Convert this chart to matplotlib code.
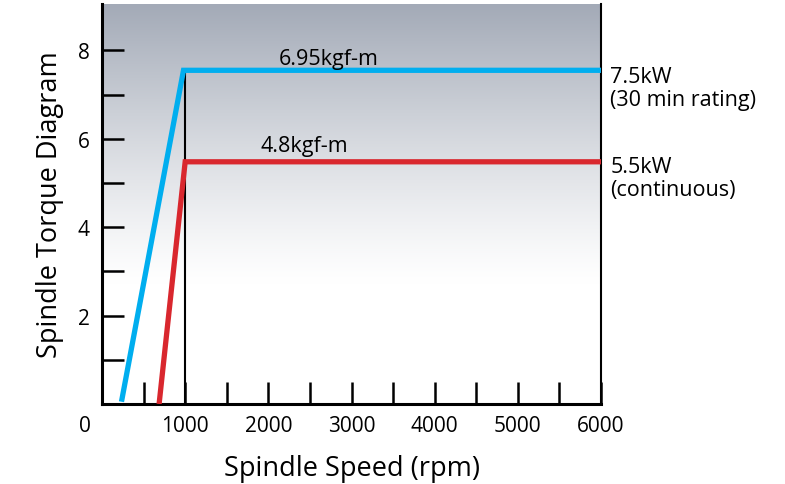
import matplotlib
matplotlib.use("Agg")
import matplotlib.pyplot as plt
import numpy as np

# Data
rating_speed = [240, 980, 6000]        # 30 min rating curve (rpm)
rating_torque = [0.11, 7.55, 7.55]     # kgf-m
cont_speed = [690, 1000, 6000]         # continuous curve (rpm)
cont_torque = [0.06, 5.48, 5.48]
base_speed = 1000
xtick_major = [1000, 2000, 3000, 4000, 5000, 6000]
xtick_labels = ["1000", "2000", "3000", "4000", "5000", "6000"]
xtick_minor = [500, 1500, 2500, 3500, 4500, 5500]
ytick_major = [2, 4, 6, 8]
ytick_all = [1, 2, 3, 4, 5, 6, 7, 8]

plt.rcParams['font.family'] = ['Open Sans', 'DejaVu Sans']

fig = plt.figure(figsize=(7.85, 4.85), dpi=100)
ax = fig.add_axes([102/785, 1-405/485, (601-102)/785, 400/485])
ax.set_xlim(0, 6000)
ax.set_ylim(0, 9.05)

# gradient background
top = np.array([163, 170, 183]) / 255
n = 256
ys = np.linspace(0, 1, n)  # 0 bottom, 1 top
grad = np.ones((n, 1, 3))
fade_start = 0.30
for i, f in enumerate(ys):
    s = max(0.0, (f - fade_start) / (1 - fade_start))
    t = s ** 1.2
    grad[i, 0, :] = (1 - t) * np.array([1, 1, 1]) + t * top
ax.imshow(grad, extent=[0, 6000, 0, 9.05], origin='lower', aspect='auto',
          interpolation='bilinear', zorder=0)

# base speed line
ax.plot([base_speed, base_speed], [0, 7.5], color='black', lw=1.5, zorder=2)

ax.plot(rating_speed, rating_torque, color='#00aeef', lw=3.8, solid_joinstyle='miter', zorder=3)
ax.plot(cont_speed, cont_torque, color='#d9272e', lw=3.8, solid_joinstyle='miter', zorder=3)

ax.spines['top'].set_visible(False)
ax.spines['left'].set_linewidth(2.2)
ax.spines['bottom'].set_linewidth(2.2)
ax.spines['right'].set_linewidth(1.5)

ax.set_xticks(xtick_major)
ax.set_xticklabels(xtick_labels)
ax.set_xticks(xtick_minor, minor=True)
ax.set_yticks(ytick_all)
ax.set_yticklabels([str(v) if v in ytick_major else "" for v in ytick_all])
ax.tick_params(axis='x', which='both', direction='in', length=16, width=1.8, labelsize=15, pad=8)
ax.tick_params(axis='y', which='both', direction='in', length=16, width=1.8, labelsize=15, pad=9)

ax.text(-200, -0.25, "0", ha='center', va='top', fontsize=15, clip_on=False)

ax.text(2720, 7.69, "6.95kgf-m", ha='center', va='baseline', fontsize=15.5)
ax.text(2430, 5.72, "4.8kgf-m", ha='center', va='baseline', fontsize=15.5)

ax.text(6110, 7.65, "7.5kW\n(30 min rating)", ha='left', va='top', fontsize=15.5, linespacing=1.15, clip_on=False)
ax.text(6110, 5.62, "5.5kW\n(continuous)", ha='left', va='top', fontsize=15.5, linespacing=1.15, clip_on=False)

ax.set_xlabel("Spindle Speed (rpm)", fontsize=19.5, labelpad=13)
ax.set_ylabel("Spindle Torque Diagram", fontsize=19.5, labelpad=10)

fig.savefig("out.png", dpi=100)
